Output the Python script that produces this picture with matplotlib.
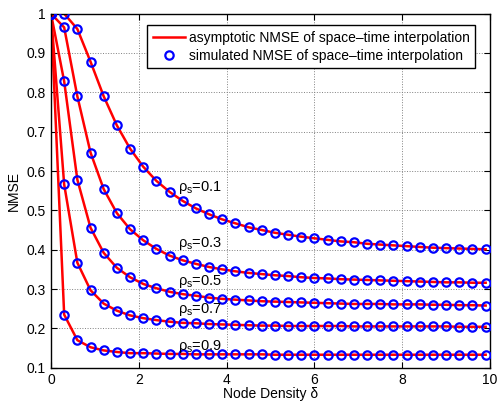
import numpy as np
import matplotlib
matplotlib.use('Agg')
import matplotlib.pyplot as plt

plt.rcParams['font.family'] = ['Liberation Sans', 'DejaVu Sans']
plt.rcParams['mathtext.default'] = 'regular'

# node density grid (step 0.3)
delta = np.round(np.arange(0, 10.0, 0.3), 1)

rho_labels = ['0.1', '0.3', '0.5', '0.7', '0.9']

nmse_01 = [1.000, 1.000, 0.961, 0.878, 0.790, 0.716, 0.657, 0.611, 0.575, 0.547,
           0.524, 0.505, 0.490, 0.477, 0.467, 0.457, 0.450, 0.443, 0.438, 0.433,
           0.429, 0.425, 0.421, 0.419, 0.415, 0.413, 0.411, 0.409, 0.407, 0.405,
           0.404, 0.403, 0.402, 0.401]
nmse_03 = [1.000, 0.965, 0.790, 0.647, 0.554, 0.493, 0.452, 0.424, 0.402, 0.385,
           0.373, 0.364, 0.356, 0.350, 0.345, 0.341, 0.338, 0.335, 0.333, 0.330,
           0.328, 0.327, 0.325, 0.324, 0.323, 0.322, 0.321, 0.320, 0.319, 0.318,
           0.317, 0.317, 0.316, 0.316]
nmse_05 = [1.000, 0.828, 0.578, 0.456, 0.392, 0.354, 0.330, 0.313, 0.302, 0.293,
           0.287, 0.283, 0.278, 0.275, 0.273, 0.271, 0.269, 0.268, 0.267, 0.266,
           0.265, 0.264, 0.263, 0.262, 0.262, 0.262, 0.261, 0.261, 0.261, 0.260,
           0.260, 0.259, 0.259, 0.258]
nmse_07 = [1.000, 0.566, 0.367, 0.297, 0.263, 0.245, 0.233, 0.226, 0.221, 0.217,
           0.214, 0.213, 0.211, 0.210, 0.209, 0.208, 0.207, 0.207, 0.206, 0.206,
           0.206, 0.206, 0.206, 0.205, 0.205, 0.205, 0.205, 0.205, 0.205, 0.205,
           0.205, 0.204, 0.204, 0.204]
nmse_09 = [1.000, 0.235, 0.170, 0.152, 0.144, 0.140, 0.137, 0.137, 0.136, 0.135,
           0.135, 0.134, 0.134, 0.134, 0.134, 0.134, 0.134, 0.133, 0.133, 0.133,
           0.133, 0.133, 0.133, 0.133, 0.133, 0.133, 0.133, 0.133, 0.133, 0.133,
           0.133, 0.133, 0.133, 0.133]
curves = [nmse_01, nmse_03, nmse_05, nmse_07, nmse_09]

# label positions (x, baseline y)
label_x = [2.9, 2.9, 2.9, 2.9, 2.9]
label_y = [0.549, 0.408, 0.311, 0.239, 0.146]

fig = plt.figure(figsize=(4.98, 4.01), dpi=100)
ax = fig.add_axes([0.1024, 0.083, 0.8816, 0.883])

for i, y in enumerate(curves):
    ax.plot(delta, y, color='red', lw=1.8, zorder=2,
            label='asymptotic NMSE of space\u2013time interpolation' if i == 0 else None)
    ax.plot(delta, y, ls='none', marker='o', ms=6, mfc='none', mec='blue', mew=1.6, zorder=3,
            label='simulated NMSE of space\u2013time interpolation' if i == 0 else None)
    ax.text(label_x[i], label_y[i], r'$\rho_s$=' + rho_labels[i], fontsize=10.5, va='baseline')

ax.set_xlim(0, 10)
ax.set_ylim(0.1, 1)
ax.set_xticks(np.arange(0, 11, 2))
ax.set_yticks(np.round(np.arange(0.1, 1.01, 0.1), 1))
ax.set_yticklabels(['0.1', '0.2', '0.3', '0.4', '0.5', '0.6', '0.7', '0.8', '0.9', '1'])
ax.tick_params(direction='in', top=True, right=True, labelsize=10, length=4, pad=4)
ax.grid(True, ls=':', color='gray', lw=0.7)
for s in ax.spines.values():
    s.set_linewidth(1.0)

ax.set_xlabel('Node Density \u03b4', fontsize=10, labelpad=0)
ax.set_ylabel('NMSE', fontsize=10, labelpad=4)

leg = ax.legend(loc='upper right', bbox_to_anchor=(0.966, 0.968), fontsize=10,
                fancybox=False, framealpha=1, edgecolor='black', borderaxespad=0,
                handlelength=2.3, handletextpad=0.3, borderpad=0.4, labelspacing=0.3)
leg.get_frame().set_linewidth(1.0)

fig.savefig('out.png', dpi=100)
